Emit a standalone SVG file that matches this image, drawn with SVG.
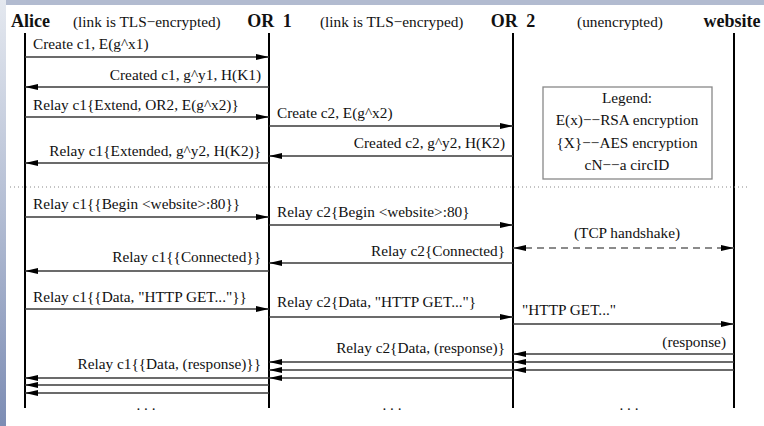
<svg xmlns="http://www.w3.org/2000/svg" width="764" height="426" viewBox="0 0 764 426">
<defs>
<linearGradient id="bgl" x1="0" y1="0" x2="0" y2="1">
<stop offset="0" stop-color="#e4e8ef"/>
<stop offset="0.5" stop-color="#b3bdd3"/>
<stop offset="1" stop-color="#7d8db4"/>
</linearGradient>
<marker id="ah" markerUnits="userSpaceOnUse" markerWidth="14" markerHeight="8" refX="13" refY="4" orient="auto-start-reverse">
<path d="M0,1 L13,4 L0,7 z" fill="#000"/>
</marker>
<style>
text{font-family:"Liberation Serif","Times New Roman",serif;fill:#111}
.h{font-size:18px;font-weight:bold}
.w{word-spacing:4px}
.n{font-size:15.3px}
.e{text-anchor:end}
.m{text-anchor:middle}
.life{stroke:#000;stroke-width:2}
.msg{stroke:#3a3a3a;stroke-width:1.3;fill:none;marker-end:url(#ah)}
.dash{stroke:#666;stroke-width:1.3;fill:none;stroke-dasharray:7,5;marker-end:url(#ah);marker-start:url(#ah)}
.dot{stroke:#888;stroke-width:1;stroke-dasharray:1,3}
</style>
</defs>
<rect x="0" y="0" width="764" height="426" fill="#fff"/>
<rect x="0" y="0" width="764" height="5" fill="#b2bbd0"/>
<rect x="0" y="0" width="6" height="426" fill="url(#bgl)"/>

<g id="header">
<text class="h" x="11" y="27">Alice</text>
<text class="n" x="73" y="27">(link is TLS−encrypted)</text>
<text class="h m w" x="269.5" y="27">OR 1</text>
<text class="n" x="320" y="27">(link is TLS−encryped)</text>
<text class="h m w" x="513" y="27">OR 2</text>
<text class="n m" x="620" y="27">(unencrypted)</text>
<text class="h m" x="732" y="27">website</text>
</g>

<g id="alice"><line class="life" x1="25" y1="33" x2="25" y2="408"/></g>
<g id="or1"><line class="life" x1="269" y1="33" x2="269" y2="408"/></g>
<g id="or2"><line class="life" x1="513" y1="33" x2="513" y2="408"/></g>
<g id="website"><line class="life" x1="734" y1="33" x2="734" y2="408"/></g>

<g id="legend">
<rect x="543" y="87" width="169" height="92" fill="#fff" stroke="#888" stroke-width="1.3"/>
<text class="n m" x="627" y="103">Legend:</text>
<text class="n m" x="627" y="125">E(x)−−RSA encryption</text>
<text class="n m" x="627" y="148">{X}−−AES encryption</text>
<text class="n m" x="627" y="170">cN−−a circID</text>
</g>

<g id="connectors">
<line class="msg" x1="25" y1="57" x2="269" y2="57"/>
<line class="msg" x1="269" y1="87" x2="25" y2="87"/>
<line class="msg" x1="25" y1="117" x2="269" y2="117"/>
<line class="msg" x1="269" y1="126" x2="513" y2="126"/>
<line class="msg" x1="513" y1="156" x2="269" y2="156"/>
<line class="msg" x1="269" y1="163" x2="25" y2="163"/>
<line class="dot" x1="10" y1="187" x2="748" y2="187"/>
<line class="msg" x1="25" y1="217" x2="269" y2="217"/>
<line class="msg" x1="269" y1="225" x2="513" y2="225"/>
<line class="dash" x1="513" y1="248" x2="734" y2="248"/>
<line class="msg" x1="513" y1="263" x2="269" y2="263"/>
<line class="msg" x1="269" y1="271" x2="25" y2="271"/>
<line class="msg" x1="25" y1="309" x2="269" y2="309"/>
<line class="msg" x1="269" y1="317" x2="513" y2="317"/>
<line class="msg" x1="513" y1="324" x2="734" y2="324"/>
<line class="msg" x1="734" y1="354" x2="513" y2="354"/>
<line class="msg" x1="734" y1="362" x2="513" y2="362"/>
<line class="msg" x1="734" y1="370" x2="513" y2="370"/>
<line class="msg" x1="513" y1="362" x2="269" y2="362"/>
<line class="msg" x1="513" y1="370" x2="269" y2="370"/>
<line class="msg" x1="513" y1="378" x2="269" y2="378"/>
<line class="msg" x1="269" y1="378" x2="25" y2="378"/>
<line class="msg" x1="269" y1="385" x2="25" y2="385"/>
<line class="msg" x1="269" y1="393" x2="25" y2="393"/>
</g>

<g id="labels">
<text class="n" x="33" y="49">Create c1, E(g^x1)</text>
<text class="n e" x="261" y="80">Created c1, g^y1, H(K1)</text>
<text class="n" x="33" y="110">Relay c1{Extend, OR2, E(g^x2)}</text>
<text class="n" x="277" y="118">Create c2, E(g^x2)</text>
<text class="n e" x="505" y="148">Created c2, g^y2, H(K2)</text>
<text class="n e" x="261" y="156">Relay c1{Extended, g^y2, H(K2)}</text>
<text class="n" x="33" y="209">Relay c1{{Begin &lt;website&gt;:80}}</text>
<text class="n" x="277" y="217">Relay c2{Begin &lt;website&gt;:80}</text>
<text class="n m" x="627" y="238">(TCP handshake)</text>
<text class="n e" x="505" y="256">Relay c2{Connected}</text>
<text class="n e" x="261" y="262">Relay c1{{Connected}}</text>
<text class="n" x="33" y="302">Relay c1{{Data, "HTTP GET..."}}</text>
<text class="n" x="277" y="307">Relay c2{Data, "HTTP GET..."}</text>
<text class="n" x="522" y="315">"HTTP GET..."</text>
<text class="n e" x="726" y="347">(response)</text>
<text class="n e" x="505" y="353">Relay c2{Data, (response)}</text>
<text class="n e" x="261" y="369">Relay c1{{Data, (response)}}</text>
<text class="n m" x="146" y="410">. . .</text>
<text class="n m" x="392" y="410">. . .</text>
<text class="n m" x="629" y="410">. . .</text>
</g>
</svg>
